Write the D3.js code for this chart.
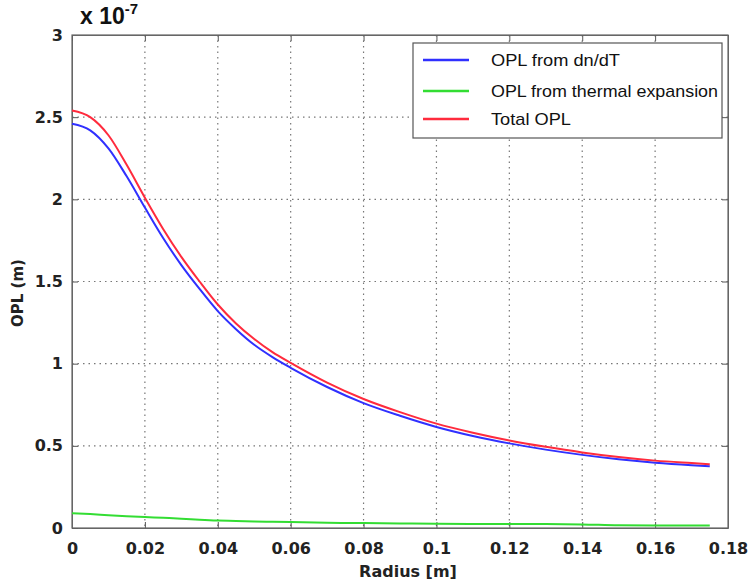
<!DOCTYPE html>
<html>
<head>
<meta charset="utf-8">
<script src="https://cdn.jsdelivr.net/npm/d3@7"></script>
<style>
  body { margin: 0; background: #fff; }
  .tick text { font-family: "DejaVu Sans", Verdana, sans-serif; font-weight: bold; font-size: 16px; fill: #222; }
</style>
</head>
<body>
<div class="chart"></div>
<script>
// radius [m]
const radius = [0, 0.005, 0.01, 0.015, 0.02, 0.025, 0.03, 0.035, 0.04, 0.045, 0.05, 0.055, 0.06, 0.07, 0.08, 0.09, 0.1, 0.11, 0.12, 0.13, 0.14, 0.15, 0.16, 0.17, 0.175];
// OPL values, units of 1e-7 m
const oplDndt = [2.46, 2.42, 2.31, 2.14, 1.95, 1.765, 1.60, 1.455, 1.32, 1.21, 1.115, 1.04, 0.975, 0.858, 0.76, 0.683, 0.615, 0.56, 0.515, 0.477, 0.445, 0.418, 0.397, 0.382, 0.376];
const oplExpansion = [0.09, 0.085, 0.078, 0.072, 0.067, 0.062, 0.057, 0.05, 0.045, 0.043, 0.04, 0.038, 0.036, 0.032, 0.03, 0.028, 0.026, 0.025, 0.024, 0.024, 0.022, 0.016, 0.015, 0.015, 0.015];
const oplTotal = [2.54, 2.50, 2.39, 2.21, 2.01, 1.82, 1.65, 1.50, 1.36, 1.245, 1.15, 1.07, 1.005, 0.885, 0.785, 0.705, 0.635, 0.58, 0.533, 0.494, 0.46, 0.432, 0.41, 0.395, 0.388];

const xTicks = [0, 0.02, 0.04, 0.06, 0.08, 0.1, 0.12, 0.14, 0.16, 0.18];
const yTicks = [0, 0.5, 1, 1.5, 2, 2.5, 3];

const series = [
  { name: "OPL from dn/dT", values: oplDndt, color: "#3030ff", len: 129 },
  { name: "OPL from thermal expansion", values: oplExpansion, color: "#33dd33", len: 227 },
  { name: "Total OPL", values: oplTotal, color: "#ff2b3d", len: 80 }
];

const width = 751, height = 585;
const margin = { top: 35, right: 23, bottom: 57, left: 72 };
const w = width - margin.left - margin.right;
const h = height - margin.top - margin.bottom;

const svg = d3.select(".chart").append("svg")
  .attr("width", width).attr("height", height);

const g = svg.append("g").attr("transform", `translate(${margin.left},${margin.top})`);

const x = d3.scaleLinear().domain([0, 0.18]).range([0, w]);
const y = d3.scaleLinear().domain([0, 3]).range([h, 0]);

// grid
g.append("g").selectAll("line").data(xTicks.slice(1, -1)).join("line")
  .attr("x1", d => x(d)).attr("x2", d => x(d)).attr("y1", 0).attr("y2", h)
  .attr("stroke", "#777").attr("stroke-width", 1.2).attr("stroke-dasharray", "1.5,4");
g.append("g").selectAll("line").data(yTicks.slice(1, -1)).join("line")
  .attr("y1", d => y(d)).attr("y2", d => y(d)).attr("x1", 0).attr("x2", w)
  .attr("stroke", "#777").attr("stroke-width", 1.2).attr("stroke-dasharray", "1.5,4");

// axes (ticks pointing inward, MATLAB style)
g.append("g").attr("transform", `translate(0,${h})`)
  .call(d3.axisBottom(x).tickValues(xTicks).tickSizeInner(-6).tickSizeOuter(0).tickPadding(15)
    .tickFormat(d => d3.format("")(+d.toFixed(2))));
g.append("g")
  .call(d3.axisLeft(y).tickValues(yTicks).tickSizeInner(-6).tickSizeOuter(0).tickPadding(9)
    .tickFormat(d => d));
g.append("g").call(d3.axisTop(x).tickValues(xTicks).tickSizeInner(-6).tickSizeOuter(0).tickFormat(""));
g.append("g").attr("transform", `translate(${w},0)`)
  .call(d3.axisRight(y).tickValues(yTicks).tickSizeInner(-6).tickSizeOuter(0).tickFormat(""));
g.selectAll(".domain").attr("stroke", "#666");
g.selectAll(".tick line").attr("stroke", "#555");

g.append("rect").attr("width", w).attr("height", h)
  .attr("fill", "none").attr("stroke", "#666").attr("stroke-width", 1.2);

// curves
const line = d3.line().x((d, i) => x(radius[i])).y(d => y(d)).curve(d3.curveMonotoneX);
series.forEach(s => {
  g.append("path").datum(s.values)
    .attr("d", line).attr("fill", "none")
    .attr("stroke", s.color).attr("stroke-width", 2);
});

// legend
const legend = svg.append("g").attr("transform", "translate(413,43)");
legend.append("rect").attr("width", 309).attr("height", 95)
  .attr("fill", "#fff").attr("stroke", "#555").attr("stroke-width", 1.2);
series.forEach((s, i) => {
  const yy = [17, 48, 76][i];
  legend.append("line").attr("x1", 10).attr("x2", 56).attr("y1", yy).attr("y2", yy)
    .attr("stroke", s.color).attr("stroke-width", 2.5);
  legend.append("text").attr("x", 78).attr("y", yy + 6)
    .attr("font-family", "Liberation Sans, Arial, sans-serif").attr("font-size", 17)
    .attr("textLength", s.len).attr("lengthAdjust", "spacingAndGlyphs")
    .attr("fill", "#111").text(s.name);
});

// labels
svg.append("text").attr("x", 408).attr("y", 577).attr("text-anchor", "middle")
  .attr("font-family", "DejaVu Sans, Verdana, sans-serif").attr("font-weight", "bold")
  .attr("font-size", 16).attr("fill", "#222").text("Radius [m]");

svg.append("text").attr("transform", "translate(23,293) rotate(-90)").attr("text-anchor", "middle")
  .attr("font-family", "DejaVu Sans, Verdana, sans-serif").attr("font-weight", "bold")
  .attr("font-size", 15).attr("fill", "#222").text("OPL (m)");

const exp = svg.append("text").attr("x", 80).attr("y", 24)
  .attr("font-family", "Liberation Sans, Arial, sans-serif").attr("font-weight", "bold")
  .attr("font-size", 23).attr("fill", "#111");
exp.append("tspan").text("x 10");
exp.append("tspan").attr("dy", -10).attr("font-size", 15).text("-7");
</script>
</body>
</html>
